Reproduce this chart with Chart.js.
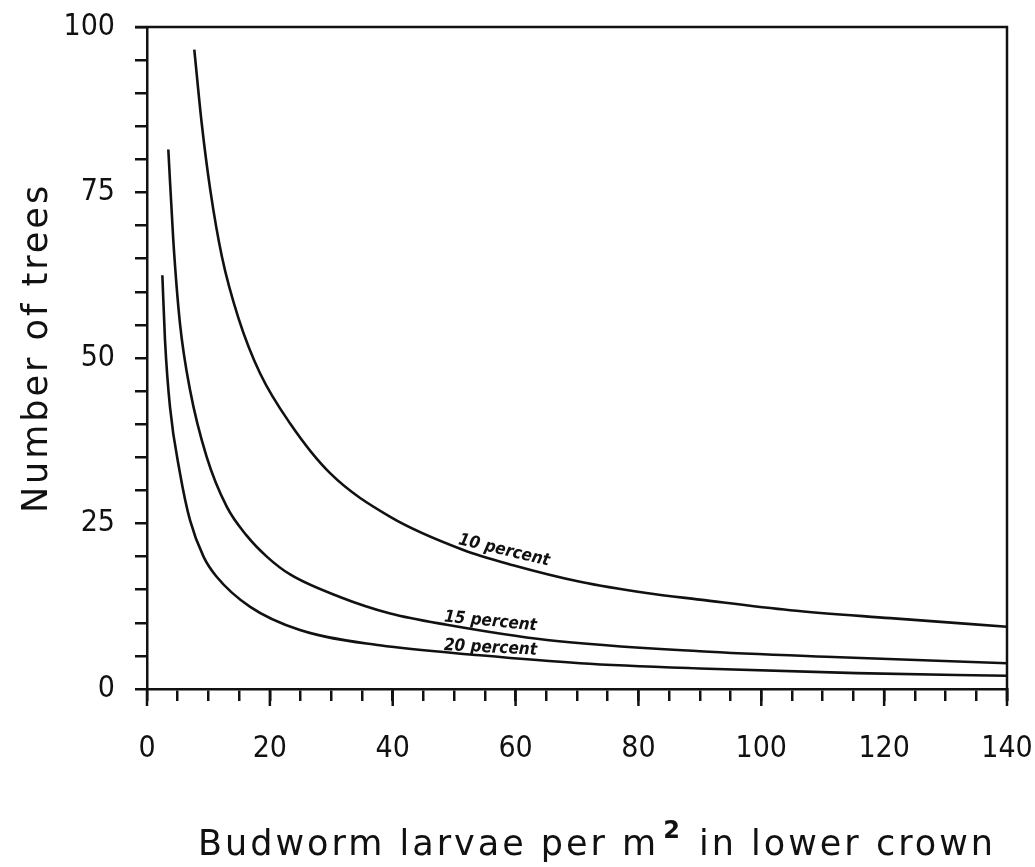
<!DOCTYPE html>
<html>
<head>
<meta charset="utf-8">
<script src="https://cdn.jsdelivr.net/npm/chart.js@4.4.0/dist/chart.umd.min.js"></script>
<style>
  html, body { margin: 0; padding: 0; background: #fff; }
  #wrap { width: 1035px; height: 867px; }
</style>
</head>
<body>
<div id="wrap"><canvas id="budwormChart" width="1035" height="867"></canvas></div>
<script>
// values (larvae per m2 -> number of trees)
const xTen = [7.7, 8.9, 10.3, 12.2, 14.9, 18.4, 23.3, 29.8, 39.6, 51.5, 59.6, 70.5, 81.3, 90.0, 104.7, 121.0, 140.0];
const yTen = [96.6, 85.5, 75.4, 65.3, 56.0, 47.7, 40.1, 32.6, 26.0, 21.0, 18.7, 16.2, 14.5, 13.5, 11.9, 10.7, 9.4];

const xFifteen = [3.47, 4.28, 5.37, 7.0, 9.7, 13.0, 16.2, 19.5, 23.3, 31.4, 39.6, 48.8, 65.1, 90.0, 112.8, 140.0];
const yFifteen = [81.5, 67.8, 55.2, 45.2, 35.1, 27.5, 23.2, 20.0, 17.3, 13.9, 11.4, 9.7, 7.4, 5.7, 4.8, 3.9];

const xTwenty = [2.5, 2.93, 3.74, 5.37, 7.0, 9.2, 11.3, 16.8, 24.9, 37.9, 54.2, 70.5, 90.0, 115.5, 140.0];
const yTwenty = [62.5, 52.7, 42.6, 32.6, 25.5, 20.0, 17.0, 12.4, 8.9, 6.6, 5.1, 3.9, 3.1, 2.4, 2.0];

const curveNames = ["10 percent", "15 percent", "20 percent"];
const xTickLabels = [0, 20, 40, 60, 80, 100, 120, 140];
const yTickLabels = [0, 25, 50, 75, 100];

const ink = "#111";

function toPoints(xs, ys) {
  return xs.map(function (x, i) {
    return { x: x, y: ys[i] };
  });
}

// label placement along each curve: data anchor + rotation (deg)
const labelSpots = [
  { x: 50.6, y: 21.9, angle: 13.4 },
  { x: 48.3, y: 10.2, angle: 5.5 },
  { x: 48.3, y: 5.9, angle: 3.0 },
];

const curveLabelPlugin = {
  id: "curveLabels",
  afterDatasetsDraw(chart) {
    const { ctx, scales } = chart;
    ctx.save();
    ctx.fillStyle = ink;
    ctx.font = "bold italic 17px 'DejaVu Sans Condensed', 'DejaVu Sans', sans-serif";
    ctx.textBaseline = "alphabetic";
    labelSpots.forEach(function (spot, i) {
      const px = scales.x.getPixelForValue(spot.x);
      const py = scales.y.getPixelForValue(spot.y);
      ctx.save();
      ctx.translate(px, py);
      ctx.rotate((spot.angle * Math.PI) / 180);
      ctx.fillText(curveNames[i], 0, 0);
      ctx.restore();
    });
    ctx.restore();
  },
};

// top/right frame, the longer ticks at every 20 larvae, and the axis titles
const framePlugin = {
  id: "frame",
  afterDraw(chart) {
    const { ctx, chartArea, scales } = chart;
    ctx.save();
    ctx.strokeStyle = ink;
    ctx.lineWidth = 2.5;
    ctx.beginPath();
    ctx.moveTo(chartArea.left - 12, chartArea.top);
    ctx.lineTo(chartArea.right, chartArea.top);
    ctx.lineTo(chartArea.right, chartArea.bottom + 12);
    ctx.stroke();
    xTickLabels.forEach(function (v) {
      const px = scales.x.getPixelForValue(v);
      ctx.beginPath();
      ctx.moveTo(px, chartArea.bottom);
      ctx.lineTo(px, chartArea.bottom + 17);
      ctx.stroke();
    });

    ctx.fillStyle = ink;
    ctx.letterSpacing = "3px";
    ctx.textBaseline = "middle";

    // y title
    ctx.save();
    ctx.translate(38, 348);
    ctx.rotate(-Math.PI / 2);
    ctx.font = "35px 'DejaVu Sans', sans-serif";
    ctx.textAlign = "center";
    ctx.fillText("Number of trees", 0, 0);
    ctx.restore();

    // x title, with a raised 2 for m^2
    const partA = "Budworm larvae per m";
    const partSup = "2";
    const partB = " in lower crown";
    ctx.font = "35px 'DejaVu Sans', sans-serif";
    const wA = ctx.measureText(partA).width;
    const wB = ctx.measureText(partB).width;
    ctx.font = "bold 24px 'DejaVu Sans', sans-serif";
    const wS = ctx.measureText(partSup).width + 6;
    const total = wA + wS + wB;
    let x0 = 597 - total / 2;
    const ty = 846;
    ctx.textAlign = "left";
    ctx.font = "35px 'DejaVu Sans', sans-serif";
    ctx.fillText(partA, x0, ty);
    ctx.font = "bold 24px 'DejaVu Sans', sans-serif";
    ctx.fillText(partSup, x0 + wA + 4, ty - 14);
    ctx.font = "35px 'DejaVu Sans', sans-serif";
    ctx.fillText(partB, x0 + wA + wS, ty);
    ctx.restore();
  },
};

const tickFont = { family: "'DejaVu Sans Condensed', sans-serif", size: 30 };

const budwormChart = new Chart(document.getElementById("budwormChart"), {
  type: "scatter",
  data: {
    datasets: [
      { label: curveNames[0], data: toPoints(xTen, yTen) },
      { label: curveNames[1], data: toPoints(xFifteen, yFifteen) },
      { label: curveNames[2], data: toPoints(xTwenty, yTwenty) },
    ].map(function (ds) {
      return Object.assign(ds, {
        showLine: true,
        borderColor: ink,
        borderWidth: 2.6,
        pointRadius: 0,
        cubicInterpolationMode: "monotone",
      });
    }),
  },
  options: {
    responsive: false,
    animation: false,
    layout: { padding: { top: 27, right: 28, bottom: 0, left: 0 } },
    plugins: {
      legend: { display: false },
      tooltip: { enabled: false },
    },
    scales: {
      x: {
        type: "linear",
        min: 0,
        max: 140,
        afterFit: function (scale) {
          scale.height = 178;
          scale.paddingLeft = 0;
          scale.paddingRight = 0;
        },
        ticks: {
          stepSize: 5,
          autoSkip: false,
          maxRotation: 0,
          padding: 30,
          color: ink,
          font: tickFont,
          callback: function (value) {
            return xTickLabels.includes(value) ? value : "";
          },
        },
        grid: { drawOnChartArea: false, tickLength: 12, color: ink, lineWidth: 2.5 },
        border: { color: ink, width: 2.5 },
      },
      y: {
        min: 0,
        max: 100,
        afterFit: function (scale) {
          scale.width = 147;
          scale.paddingTop = 0;
          scale.paddingBottom = 0;
        },
        ticks: {
          stepSize: 5,
          autoSkip: false,
          padding: 20,
          color: ink,
          font: tickFont,
          callback: function (value) {
            return yTickLabels.includes(value) ? value : "";
          },
        },
        grid: { drawOnChartArea: false, tickLength: 12, color: ink, lineWidth: 2.5 },
        border: { color: ink, width: 2.5 },
      },
    },
  },
  plugins: [curveLabelPlugin, framePlugin],
});
</script>
</body>
</html>
